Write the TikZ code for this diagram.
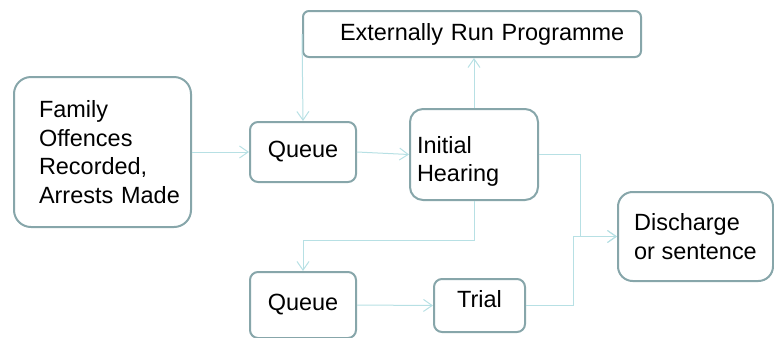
\documentclass[tikz,border=0pt]{standalone}
\usepackage{fontspec}
\setmainfont{Liberation Sans}
\usetikzlibrary{arrows.meta}
\definecolor{boxline}{RGB}{135,166,170}
\definecolor{linkline}{RGB}{183,224,228}

\begin{document}
\begin{tikzpicture}[x=0.75pt, y=-0.75pt,
        box/.style={draw=boxline, line width=1.5pt, fill=white, align=left, inner ysep=0pt,
            font=\fontsize{17.6}{21.5}\selectfont},
        link/.style={draw=linkline, line width=0.75pt, -{Straight Barb[length=6.5pt,width=9pt]}}]
        \useasboundingbox (0,0) rectangle (774,337);
        \clip (0,0) rectangle (774,337);
        % boxes
        \node[box, rounded corners=12.75pt, minimum height=112.5pt, text width=95.25pt, inner xsep=18.75pt] (fam) at (102.5,152) {Family\\Offences\\Recorded,\\\mbox{Arrests Made}};
        \node[box, rounded corners=6pt, minimum width=79.5pt, minimum height=45pt] (queue1) at (303,152) {Queue};
        \node[box, rounded corners=4.5pt, minimum height=34.5pt, text width=198pt, inner xsep=27.75pt] (ext) at (472,34) {\mbox{Externally Run Programme}};
        \node[box, rounded corners=9.75pt, minimum height=68.25pt, text width=85.5pt, inner xsep=5.25pt] (init) at (474,154.5) {\rule{0pt}{23pt}Initial\\Hearing};
        \node[box, rounded corners=11pt, minimum width=116.25pt, minimum height=66.75pt] (dis) at (695.5,236.5) {Discharge\\or sentence};
        \node[box, rounded corners=6pt, minimum width=79.5pt, minimum height=49.5pt] (queue2) at (303,305) {Queue};
        \node[box, rounded corners=6pt, minimum width=68.25pt, minimum height=39.75pt] (trial) at (479.5,305.5) {\raisebox{4.5pt}[\height][\depth]{Trial}};
        % connectors
        \draw[link] (fam.east) -- (queue1.west);
        \draw[link] (ext.west) -- (queue1.north);
        \draw[link] (queue1.east) -- (init.west);
        \draw[link] (init.north) -- (init.north |- ext.south);
        \draw[link] (init.east) -- ++(41,0) |- (dis.west);
        \draw[link] (init.south) -- ++(0,39) -| (queue2.north);
        \draw[link] (queue2.east) -- (trial.west);
        \draw[link] (trial.east) -- ++(47,0) |- (dis.west);
\end{tikzpicture}
\end{document}
